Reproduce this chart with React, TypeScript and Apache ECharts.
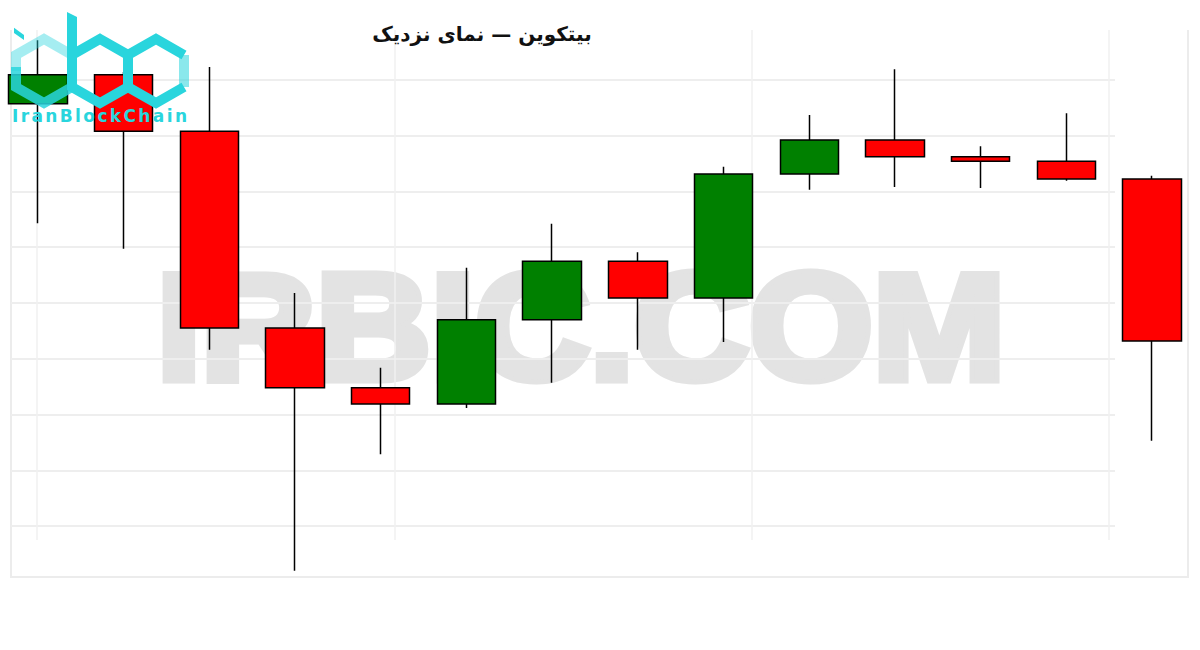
import React, { useEffect, useRef } from "react";
import * as echarts from "echarts";

// ---- data ----
const categories = ["1", "2", "3", "4", "5", "6", "7", "8", "9", "10", "11", "12", "13", "14"];
const opens = [68570, 69090, 68080, 64550, 63480, 63190, 64700, 65750, 65090, 67310, 67920, 67620, 67540, 67220];
const closes = [69090, 68080, 64550, 63480, 63190, 64700, 65750, 65090, 67310, 67920, 67620, 67540, 67220, 64320];
const lows = [66430, 65970, 64160, 60200, 62290, 63120, 63570, 64160, 64300, 67030, 67080, 67060, 67190, 62530];
const highs = [69710, 69140, 69230, 65180, 63840, 65630, 66420, 65910, 67440, 68370, 69190, 67810, 68400, 67280];

const priceMin = 60000;
const priceMax = 70000;
const gridRows = 8;
const gridCols = 3;

const titleText = "بیتکوین — نمای نزدیک";
const watermarkText = "IRBIC.COM";
const logoText = "IranBlockChain";

const CYAN = "#29d5dd";
const CYAN_LIGHT = "rgba(41,213,221,0.42)";

// the chart canvas starts 5px left of the page edge
const OX = 5;

export default function App() {
  const ref = useRef<HTMLDivElement>(null);

  useEffect(() => {
    if (!ref.current) return;
    const chart = echarts.init(ref.current, null, { renderer: "svg" });

    const ctx = document.createElement("canvas").getContext("2d");
    const measure = (font: string, t: string, fallback: number) => {
      if (!ctx) return fallback;
      ctx.font = font;
      return ctx.measureText(t).width;
    };

    // logo letters, spaced out
    const logoFont = 'bold 17px "DejaVu Sans"';
    const chars = logoText.split("");
    const widths = chars.map((c) => measure(logoFont, c, 11));
    const totalW = 175;
    const gap = (totalW - widths.reduce((a, b) => a + b, 0)) / (chars.length - 1);
    let lx = 12 + OX;
    const letters: any[] = chars.map((c, i) => {
      const el = {
        type: "text",
        x: lx,
        y: 116,
        z: 101,
        style: { text: c, fill: CYAN, font: logoFont, textAlign: "left", textVerticalAlign: "middle" },
      };
      lx += widths[i] + gap;
      return el;
    });

    // watermark: heavy letters (bold + same-colour outline), stretched to its width
    const wmStroke = 9;
    const wmSize = 151;
    const wmFont = `bold ${wmSize}px "Liberation Sans"`;
    const wmW = measure(wmFont, watermarkText, 805);
    const wmScaleX = (858 - wmStroke) / wmW;

    // logo hexagons
    const hw = 28;
    const s = 32;
    const hcy = 71;
    const hex = (cx: number) => ({
      top: [cx + OX, hcy - s],
      ur: [cx + OX + hw, hcy - s / 2],
      lr: [cx + OX + hw, hcy + s / 2],
      bot: [cx + OX, hcy + s],
      ll: [cx + OX - hw, hcy + s / 2],
      ul: [cx + OX - hw, hcy - s / 2],
    });
    const hi = hex(44);
    const hb = hex(100);
    const hc = hex(156);
    const stroke = (color: string) => ({ fill: "none", stroke: color, lineWidth: 10, lineJoin: "miter" });
    const P = (pts: number[][]) => pts.map(([x, y]) => [x + OX, y]);
    const logo: any[] = [
      { type: "polyline", z: 100, shape: { points: [[hi.ul[0], hcy], hi.ul, hi.top, hi.ur] }, style: stroke(CYAN_LIGHT) },
      { type: "polyline", z: 100, shape: { points: [[hi.ll[0], hcy - 4], hi.ll, hi.bot, hi.lr] }, style: stroke("rgba(41,213,221,0.85)") },
      { type: "polygon", z: 100, shape: { points: [hb.top, hb.ur, hb.lr, hb.bot, hb.ll, hb.ul] }, style: stroke(CYAN) },
      { type: "polyline", z: 100, shape: { points: [hc.lr, hc.bot, hc.ll, hc.ul, hc.top, hc.ur] }, style: stroke(CYAN) },
      { type: "polyline", z: 100, shape: { points: [hc.ur, hc.lr] }, style: stroke("rgba(41,213,221,0.55)") },
      { type: "polygon", z: 100, shape: { points: P([[67, 12], [77, 17], [77, 88], [67, 88]]) }, style: { fill: CYAN } },
      { type: "polygon", z: 100, shape: { points: P([[14, 27.7], [24, 35], [24, 40], [14, 33]]) }, style: { fill: CYAN } },
    ];

    chart.setOption({
      animation: false,
      backgroundColor: "#ffffff",
      grid: [
        { left: 0, top: 24, width: 1200, height: 558 },
        { left: 11 + OX, top: 79.8, width: 1104, height: 446.4 },
        { left: 37 + OX, top: 30, width: 1072, height: 510 },
      ],
      xAxis: [
        { gridIndex: 0, type: "category", data: categories, boundaryGap: true, show: false },
        { gridIndex: 1, type: "value", min: 0, max: 1, show: false },
        {
          gridIndex: 2,
          type: "value",
          min: 0,
          max: gridCols,
          interval: 1,
          axisLine: { show: false },
          axisTick: { show: false },
          axisLabel: { show: false },
          splitLine: { show: true, lineStyle: { color: "#f0f0f0", width: 1.5 } },
        },
      ],
      yAxis: [
        { gridIndex: 0, type: "value", min: priceMin, max: priceMax, show: false },
        {
          gridIndex: 1,
          type: "value",
          min: 0,
          max: gridRows,
          interval: 1,
          axisLine: { show: false },
          axisTick: { show: false },
          axisLabel: { show: false },
          splitLine: { show: true, lineStyle: { color: "#eeeeee", width: 2 } },
        },
        { gridIndex: 2, type: "value", min: 0, max: 1, show: false },
      ],
      series: [
        {
          type: "candlestick",
          xAxisIndex: 0,
          yAxisIndex: 0,
          barWidth: 59,
          data: categories.map((_, i) => [opens[i], closes[i], lows[i], highs[i]]),
          itemStyle: {
            color: "#008000",
            color0: "#ff0000",
            borderColor: "#000000",
            borderColor0: "#000000",
            borderWidth: 1.5,
          },
          z: 5,
        },
      ],
      graphic: [
        {
          type: "polyline",
          z: -5,
          shape: { points: [[11 + OX, 30], [11 + OX, 577], [1188 + OX, 577], [1188 + OX, 30]] },
          style: { fill: "none", stroke: "#ececec", lineWidth: 2 },
        },
        {
          type: "text",
          z: -10,
          x: 581 + OX,
          y: 326.5,
          scaleX: wmScaleX,
          style: {
            text: watermarkText,
            font: wmFont,
            fill: "#e3e3e3",
            stroke: "#e3e3e3",
            lineWidth: wmStroke,
            lineJoin: "miter",
            textAlign: "center",
            textVerticalAlign: "middle",
          },
        },
        {
          type: "text",
          z: 50,
          x: 482 + OX,
          y: 34,
          style: {
            text: titleText,
            font: 'bold 20px "DejaVu Sans"',
            fill: "#111111",
            textAlign: "center",
            textVerticalAlign: "middle",
          },
        },
        ...logo,
        ...letters,
      ],
    });

    return () => {
      chart.dispose();
    };
  }, []);

  return <div ref={ref} style={{ position: "absolute", left: -OX, top: 0, width: 1200 + OX, height: 650 }} />;
}
